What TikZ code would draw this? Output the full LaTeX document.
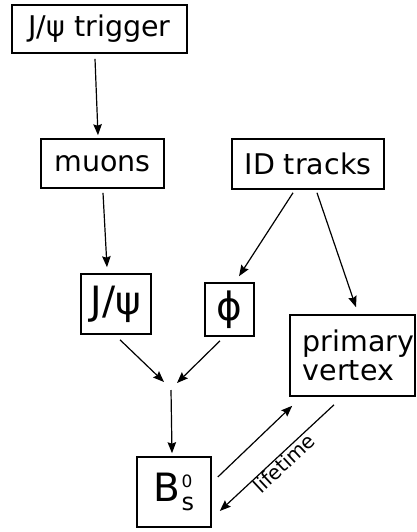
\documentclass[tikz,border=0pt]{standalone}
\usepackage{fontspec}
\setmainfont{DejaVu Sans}
\usetikzlibrary{arrows.meta,calc}
\begin{document}
\begin{tikzpicture}[x=1pt,y=-1pt,
  box/.style={draw,line width=1.6pt,inner sep=0pt,align=center,font=\fontsize{28.5}{29}\selectfont},
  big/.style={font=\fontsize{39}{40}\selectfont},
  arr/.style={line width=1.2pt,-{Stealth[length=11pt,width=8.5pt,inset=1.5pt]}}]
\useasboundingbox (0,0) rectangle (417,532);
\node[box,minimum width=175pt,minimum height=48pt] (trig) at (99.5,29) {J/ψ trigger};
\node[box,minimum width=123pt,minimum height=49pt] (muons) at (102.5,163.5) {muons};
\node[box,minimum width=152pt,minimum height=50pt] (id) at (308,164) {ID tracks};
\node[box,big,minimum width=70pt,minimum height=60pt] (jpsi) at (116,304) {J/ψ};
\node[box,big,minimum width=49pt,minimum height=53pt] (phi) at (229.5,309.5) {ϕ};
\node[box,minimum width=125pt,minimum height=81pt,align=left] (pv) at (352.5,355.5) {\hspace*{12pt}primary\\\hspace*{12pt}vertex};
\node[box,big,minimum width=74pt,minimum height=70pt] (bs) at (174,492) {B\kern1pt\rlap{\raisebox{14pt}{\fontsize{17}{17}\selectfont 0}}\raisebox{-9pt}{\fontsize{24}{24}\selectfont s}};
\coordinate (m1) at (164,382);
\coordinate (m2) at (177,383);
\coordinate (m0) at (171,390);
\draw[arr] ([shift={(-4.5,5)}]trig.south) -- ([shift={(-4.5,-3)}]muons.north);
\draw[arr] ([shift={(0.5,4)}]muons.south) -- ([shift={(-9,-6)}]jpsi.north);
\draw[arr] ([shift={(-15,3)}]id.south) -- ([shift={(9.5,-6)}]phi.north);
\draw[arr] ([shift={(9,3)}]id.south) -- ([shift={(3.5,-7)}]pv.north);
\draw[arr] ([shift={(4,5)}]jpsi.south) -- (m1);
\draw[arr] ([shift={(-9.5,4)}]phi.south) -- (m2);
\draw[arr] (m0) -- ([shift={(-2,-3)}]bs.north);
\draw[arr] ([shift={(6,-15)}]bs.east) -- ([shift={(3,9)}]pv.south west);
\draw[arr] ([shift={(-18.5,8)}]pv.south) -- node[pos=0.49,below,sloped,inner sep=0.5pt,font=\fontsize{20}{20}\selectfont] (lt) {lifetime} ([shift={(8,19)}]bs.east);
\end{tikzpicture}
\end{document}
